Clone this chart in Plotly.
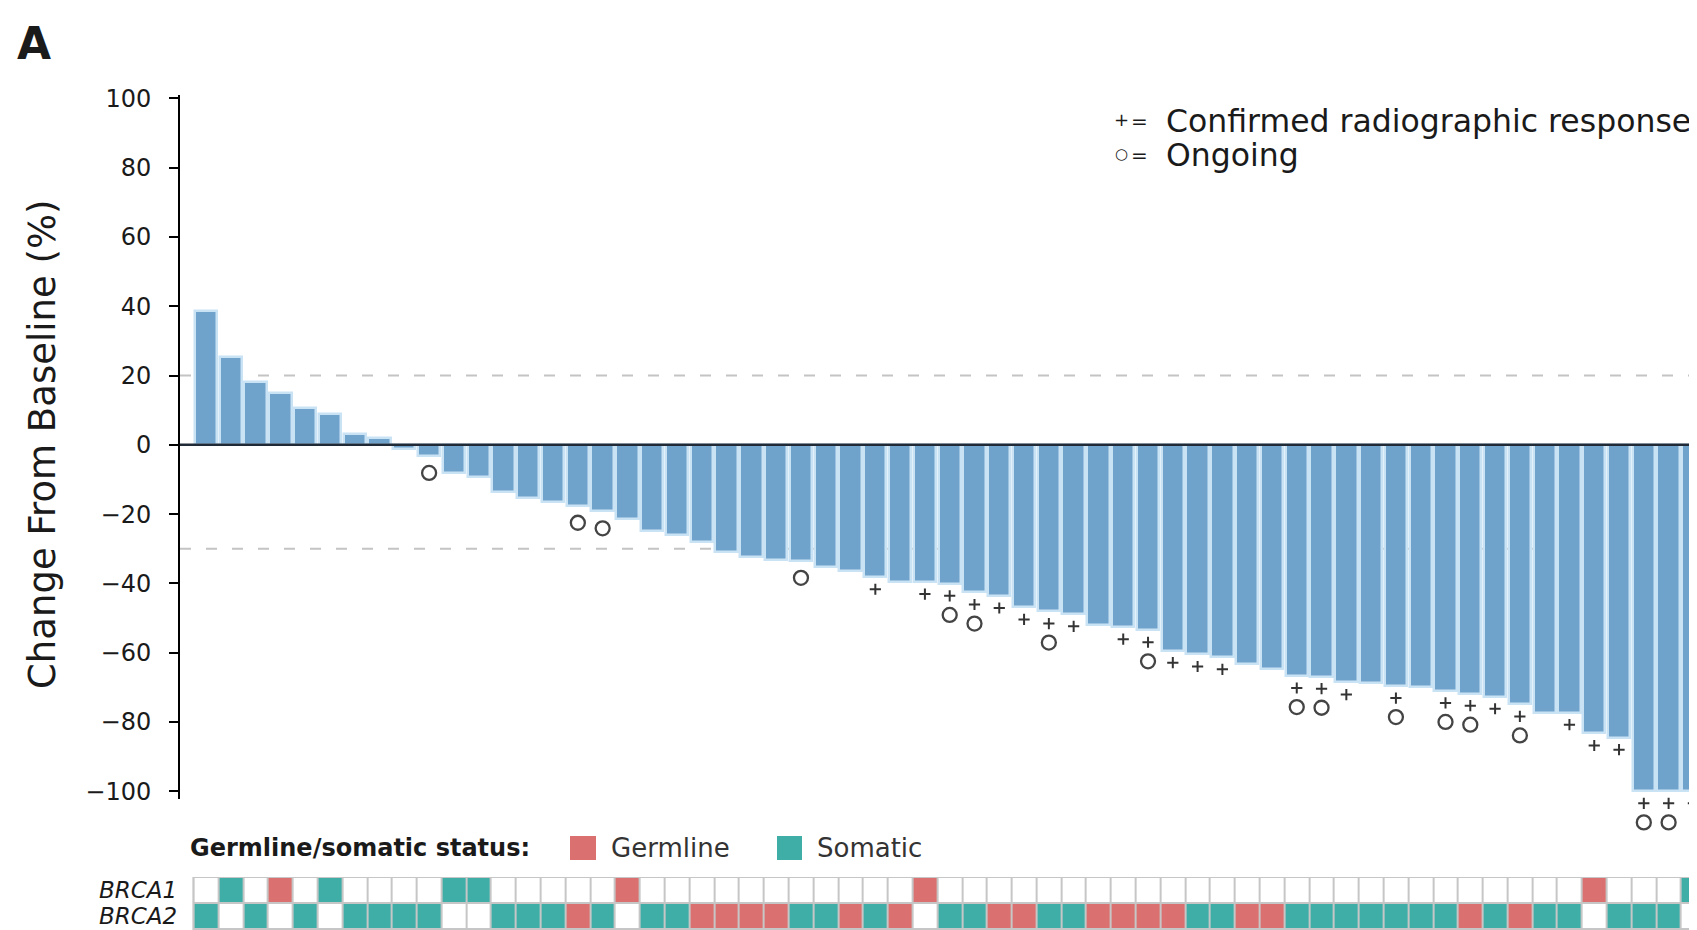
import plotly.graph_objects as go

# ---------------- data ----------------
patients = list(range(1, 62))
change_pct = [38.5, 25.5, 18.2, 15.0, 10.5, 9.0, 3.0, 2.0, -1.3, -3.2,
              -8.2, -9.2, -13.7, -15.4, -16.6, -17.6, -19.2, -21.4, -25.0, -26.1,
              -28.1, -31.0, -32.4, -33.2, -33.5, -35.3, -36.3, -38.2, -39.5, -39.6,
              -40.1, -42.6, -43.6, -46.9, -48.1, -48.9, -52.0, -52.6, -53.5, -59.4,
              -60.5, -61.3, -63.3, -64.7, -66.7, -66.9, -68.6, -68.9, -69.6, -70.0,
              -71.0, -71.8, -72.7, -74.9, -77.3, -77.3, -83.3, -84.5, -100.0, -100.0,
              -100.0]
confirmed_idx = [28, 30, 31, 32, 33, 34, 35, 36, 38, 39, 40, 41, 42, 45, 46, 47,
                 49, 51, 52, 53, 54, 56, 57, 58, 59, 60, 61]
ongoing_idx = [10, 16, 17, 25, 31, 32, 35, 39, 45, 46, 49, 51, 52, 54, 59, 60]

# 0 = none, 1 = somatic, 2 = germline
brca1 = [0, 1, 0, 2, 0, 1, 0, 0, 0, 0, 1, 1, 0, 0, 0, 0, 0, 2, 0, 0,
         0, 0, 0, 0, 0, 0, 0, 0, 0, 2, 0, 0, 0, 0, 0, 0, 0, 0, 0, 0,
         0, 0, 0, 0, 0, 0, 0, 0, 0, 0, 0, 0, 0, 0, 0, 0, 2, 0, 0, 0, 1]
brca2 = [1, 0, 1, 0, 1, 0, 1, 1, 1, 1, 0, 0, 1, 1, 1, 2, 1, 0, 1, 1,
         2, 2, 2, 2, 1, 1, 2, 1, 2, 0, 1, 1, 2, 2, 1, 1, 2, 2, 2, 2,
         1, 1, 2, 2, 1, 1, 1, 1, 1, 1, 1, 2, 1, 2, 1, 1, 0, 1, 1, 1, 0]
gene_labels = ["BRCA1", "BRCA2"]
y_ticks = [100, 80, 60, 40, 20, 0, -20, -40, -60, -80, -100]
ref_lines = [20, -30]

# ---------------- style ----------------
BAR = "#70A3CB"
BAR_EDGE = "#C9E3F5"
TEAL = "#3EAEA7"
RED = "#DA706F"
TXT = "#1a1a1a"
FONT = "DejaVu Sans"

W, H = 1697, 930
OFF = 8            # page offset of the figure (default body margin)
L = 180 - OFF      # left margin so that the axis sits at page x = 180
PW = W - L


def xp(px):
    """page x pixel -> paper fraction"""
    return (px - OFF - L) / PW


def yp(py):
    """page y pixel -> paper fraction"""
    return (H - (py - OFF)) / H


# main value axis: page px 95 -> 101, page px 799 -> -102.25
Y_TOP, Y_BOT = 101.0, -102.25
PX_TOP, PX_BOT = 95, 799
K = (PX_BOT - PX_TOP) / (Y_TOP - Y_BOT)
PX_BOT3 = 845
Y_BOT3 = Y_TOP - (PX_BOT3 - PX_TOP) / K

# grid rows: 26 px each, BRCA1 starting at page y 877
ROW = 26.0
GRID_TOP = 877
GRID_BOT = H + OFF
Y2_BOT = -0.5 + (GRID_BOT - GRID_TOP) / ROW

fig = go.Figure()

fig.add_trace(go.Bar(
    x=patients, y=change_pct, width=0.9,
    marker=dict(color=BAR, line=dict(color=BAR_EDGE, width=2.5)),
    xaxis="x", yaxis="y", showlegend=False, hoverinfo="x+y"))

conf_x = [p for p in patients if p in confirmed_idx]
conf_y = [change_pct[p - 1] - 3.5 for p in conf_x]
ong_x = [p for p in patients if p in ongoing_idx]
ong_y = [change_pct[p - 1] - (9.0 if p in confirmed_idx else 4.9) for p in ong_x]

fig.add_trace(go.Scatter(
    x=conf_x, y=conf_y, mode="markers", cliponaxis=False,
    marker=dict(symbol="cross-thin", size=8, line=dict(color="#333333", width=2)),
    xaxis="x", yaxis="y3", showlegend=False))
fig.add_trace(go.Scatter(
    x=ong_x, y=ong_y, mode="markers", cliponaxis=False,
    marker=dict(symbol="circle-open", size=14, color="#444444", line=dict(width=2.3)),
    xaxis="x", yaxis="y3", showlegend=False))

fig.add_trace(go.Heatmap(
    z=[brca1, brca2], x=patients, y=[0, 1],
    zmin=0, zmax=2, showscale=False, xgap=2, ygap=2,
    colorscale=[[0, "white"], [0.25, "white"], [0.25, TEAL], [0.75, TEAL],
                [0.75, RED], [1, RED]],
    xaxis="x", yaxis="y2", hoverinfo="skip"))

shapes = []
for v in ref_lines:
    shapes.append(dict(type="line", xref="paper", yref="y", x0=0, x1=1, y0=v, y1=v,
                       layer="below", line=dict(color="#C4C4C4", width=2, dash="11px,15px")))
shapes.append(dict(type="line", xref="paper", yref="y", x0=0, x1=1, y0=0, y1=0,
                   layer="above", line=dict(color="#1F2A36", width=2.5)))
# grey background for the grid borders
shapes.append(dict(type="rect", xref="x", yref="y2", x0=0.45, x1=61.6, y0=-0.55, y1=Y2_BOT,
                   layer="below", fillcolor="#C6C6C6", line=dict(width=0)))
# germline / somatic swatches
shapes.append(dict(type="rect", xref="paper", yref="paper", x0=xp(570), x1=xp(596),
                   y0=yp(860), y1=yp(836), fillcolor=RED, line=dict(width=0)))
shapes.append(dict(type="rect", xref="paper", yref="paper", x0=xp(777), x1=xp(802),
                   y0=yp(860), y1=yp(836), fillcolor=TEAL, line=dict(width=0)))

ann = []


def txt(text, px, py, size, anchor="left", color=TXT, bold=False, angle=0):
    ann.append(dict(text=("<b>%s</b>" % text) if bold else text, x=xp(px), y=yp(py),
                    xref="paper", yref="paper", xanchor=anchor, yanchor="middle",
                    showarrow=False, textangle=angle,
                    font=dict(family=FONT, size=size, color=color)))


txt("A", 15, 44, 44, bold=True)
txt("Change From Baseline (%)", 42, 444, 37, anchor="center", angle=-90)
txt("+", 1121, 119, 18, anchor="center")
txt("=", 1139, 121, 20, anchor="center")
txt("Confirmed radiographic response", 1164, 121, 31.5)
txt("○", 1121, 154, 15, anchor="center")
txt("=", 1139, 155, 20, anchor="center")
txt("Ongoing", 1164, 155, 31.5)
txt("Germline/somatic status:", 188, 848, 24, bold=True)
txt("Germline", 609, 848, 26, color="#333333")
txt("Somatic", 815, 848, 26, color="#333333")

for i, g in enumerate(gene_labels):
    ann.append(dict(text="<i>%s</i>" % g, x=xp(179), y=i, xref="paper", yref="y2",
                    xanchor="right", yanchor="middle", showarrow=False,
                    font=dict(family=FONT, size=23, color=TXT)))

x_left = 1 - (206 - 180) / 24.79
x_right = 1 + (W + OFF - 206) / 24.79

hidden = dict(showgrid=False, zeroline=False, showticklabels=False, showline=False,
              ticks="", automargin=False, fixedrange=True)

fig.update_layout(
    width=W, height=H,
    margin=dict(l=L, r=0, t=0, b=0, pad=0, autoexpand=False),
    paper_bgcolor="white", plot_bgcolor="rgba(0,0,0,0)",
    font=dict(family=FONT, color=TXT),
    bargap=0,
    xaxis=dict(range=[x_left, x_right], **hidden),
    yaxis=dict(domain=[yp(PX_BOT), yp(PX_TOP)], range=[Y_BOT, Y_TOP],
               tickvals=y_ticks, showgrid=False, zeroline=False, automargin=False,
               showline=True, linecolor="black", linewidth=2,
               ticks="outside", ticklen=9, tickwidth=2, tickcolor="black",
               ticklabelstandoff=13,
               tickfont=dict(family=FONT, size=24, color=TXT)),
    yaxis2=dict(domain=[0, yp(GRID_TOP)], range=[Y2_BOT, -0.5], anchor="x", **hidden),
    yaxis3=dict(domain=[yp(PX_BOT3), yp(PX_TOP)], range=[Y_BOT3, Y_TOP], anchor="x", **hidden),
    shapes=shapes, annotations=ann,
)

fig.write_html("out.html")
